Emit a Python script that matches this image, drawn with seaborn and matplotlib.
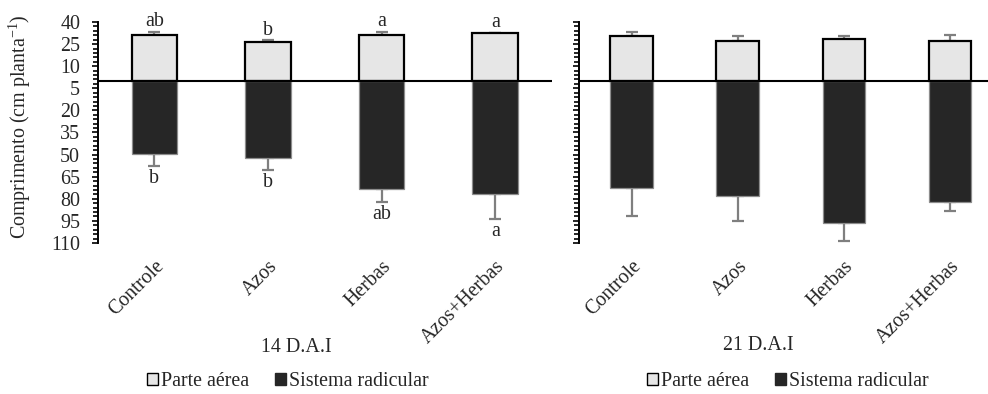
import numpy as np
import pandas as pd
import matplotlib
matplotlib.use("Agg")
import matplotlib.pyplot as plt
import seaborn as sns
from matplotlib.patches import Patch
from matplotlib.ticker import FixedLocator, FuncFormatter

# ---------------- data ----------------
categories = ["Controle", "Azos", "Herbas", "Azos+Herbas"]

aerea_14 = [31.2, 26.7, 31.4, 32.4]
aerea_14_err = [2.1, 1.1, 1.9, 0.3]
radic_14 = [49.8, 52.0, 73.5, 77.0]
radic_14_err = [7.9, 8.4, 8.9, 16.9]
letras_aerea_14 = ["ab", "b", "a", "a"]
letras_radic_14 = ["b", "b", "ab", "a"]

aerea_21 = [30.8, 27.4, 28.5, 27.4]
aerea_21_err = [2.2, 3.4, 2.3, 4.0]
radic_21 = [72.4, 78.3, 96.4, 82.1]
radic_21_err = [19.0, 16.5, 12.4, 6.4]

panel_titles = ["14 D.A.I", "21 D.A.I"]
legend_labels = ["Parte aérea", "Sistema radicular"]
y_label = "Comprimento (cm planta$^{-1}$)"

# ---------------- style ----------------
sns.set_style("white")
plt.rcParams["font.family"] = ["Liberation Serif", "DejaVu Serif"]
plt.rcParams["font.serif"] = ["Liberation Serif", "DejaVu Serif"]
plt.rcParams["mathtext.fontset"] = "custom"
plt.rcParams["mathtext.rm"] = "Liberation Serif"
plt.rcParams["mathtext.it"] = "Liberation Serif:italic"
FS = 14.4
FAM = ["Liberation Serif", "DejaVu Serif"]

light = "#e6e6e6"
dark = "#262626"
errc = "#7f7f7f"

W, H = 988, 394
fig = plt.figure(figsize=(W / 100, H / 100), dpi=100)

def frac_rect(x0, y0, x1, y1):
    return [x0 / W, 1 - y1 / H, (x1 - x0) / W, (y1 - y0) / H]

ax1 = fig.add_axes(frac_rect(97.5, 22, 552, 243))
ax2 = fig.add_axes(frac_rect(578.5, 22, 1003, 243))

def draw_panel(ax, aer, aer_err, rad, rad_err, show_labels, la=None, lr=None):
    df_a = pd.DataFrame({"cat": categories, "val": aer})
    df_r = pd.DataFrame({"cat": categories, "val": [-v for v in rad]})
    sns.barplot(data=df_a, x="cat", y="val", order=categories, color=light,
                saturation=1, width=0.4, edgecolor="black", linewidth=1.6,
                errorbar=None, ax=ax, zorder=2)
    sns.barplot(data=df_r, x="cat", y="val", order=categories, color=dark,
                saturation=1, width=0.4, edgecolor="#8c8c8c", linewidth=0.9,
                errorbar=None, ax=ax, zorder=2)
    xs = np.arange(len(categories))
    ax.errorbar(xs, aer, yerr=[np.zeros(len(aer)), aer_err], fmt="none",
                ecolor=errc, elinewidth=1.6, capsize=4, capthick=1.6, zorder=1)
    ax.errorbar(xs, [-v for v in rad], yerr=[rad_err, np.zeros(len(rad))],
                fmt="none", ecolor=errc, elinewidth=1.6, capsize=4,
                capthick=1.6, zorder=1)
    ax.axhline(0, color="black", lw=1.5, zorder=3)
    ax.set_xlim(-0.5, 3.5)
    ax.set_ylim(-110, 40)
    for s in ["top", "right", "bottom"]:
        ax.spines[s].set_visible(False)
    ax.spines["left"].set_color("black")
    ax.spines["left"].set_linewidth(1.4)
    ax.yaxis.set_major_locator(FixedLocator(np.arange(-110, 41, 15)))
    ax.yaxis.set_minor_locator(FixedLocator(np.arange(-110, 41, 3)))
    ax.yaxis.set_major_formatter(FuncFormatter(lambda v, p: f"{abs(int(round(v)))}"))
    ax.tick_params(axis="y", which="major", direction="out", length=4.5,
                   width=1.2, color="black", left=True, labelsize=FS, pad=8,
                   labelleft=show_labels)
    ax.tick_params(axis="y", which="minor", direction="out", length=3.5,
                   width=1.2, color="black", left=True)
    ax.tick_params(axis="x", which="both", bottom=False, length=0, pad=10)
    ax.set_xticks(xs)
    ax.set_xticklabels(categories, rotation=45, ha="right", va="top",
                       rotation_mode="anchor", fontsize=FS, family=FAM)
    for t in ax.get_yticklabels():
        t.set_family(FAM)
    ax.set_xlabel("")
    ax.set_ylabel("")
    if la is not None:
        for x, v, e, t in zip(xs, aer, aer_err, la):
            ax.text(x, v + e + 0.3, t, ha="center", va="bottom", fontsize=FS,
                    family=FAM)
        for x, v, e, t in zip(xs, rad, rad_err, lr):
            ax.text(x, -(v + e) - 1.8, t, ha="center", va="top", fontsize=FS,
                    family=FAM)

draw_panel(ax1, aerea_14, aerea_14_err, radic_14, radic_14_err, True,
           letras_aerea_14, letras_radic_14)
draw_panel(ax2, aerea_21, aerea_21_err, radic_21, radic_21_err, False)

fig.text(20 / W, 1 - 127 / H, y_label, rotation=90, ha="center",
         va="center", fontsize=FS, family=FAM)
fig.text(296 / W, 1 - 347 / H, panel_titles[0], ha="center", va="center",
         fontsize=FS, family=FAM)
fig.text(758 / W, 1 - 345 / H, panel_titles[1], ha="center", va="center",
         fontsize=FS, family=FAM)

handles = [Patch(facecolor=light, edgecolor="black", linewidth=1.0),
           Patch(facecolor=dark, edgecolor=dark, linewidth=1.0)]
for cx in (288, 788):
    fig.legend(handles, legend_labels, loc="center",
               bbox_to_anchor=(cx / W, 1 - 382 / H), ncol=2, frameon=False,
               prop={"family": FAM, "size": FS}, handlelength=0.55,
               handleheight=0.55, handletextpad=0.15, columnspacing=1.3,
               borderaxespad=0, borderpad=0)

fig.savefig("out.png", dpi=100)
